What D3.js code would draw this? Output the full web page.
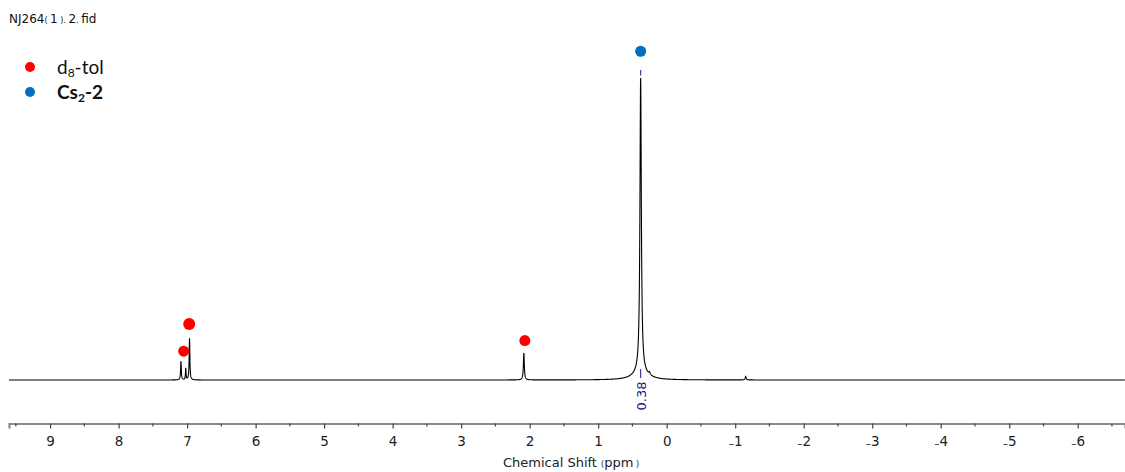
<!DOCTYPE html>
<html>
<head>
<meta charset="utf-8">
<script src="https://cdn.jsdelivr.net/npm/d3@7"></script>
<style>
  html, body { margin: 0; padding: 0; background: #fff; }
  svg { display: block; }
</style>
</head>
<body>
<svg id="chart" width="1125" height="472"></svg>
<script>
// Spectrum peaks: chemical shift (ppm), relative height, half-width (ppm)
const peakShifts  = [7.09, 7.02, 6.965, 2.085, 0.38, 0.38, 0.25, -1.153];
const peakHeights = [0.062, 0.038, 0.138, 0.089, 0.972, 0.026, 0.008, 0.012];
const peakWidths  = [0.006, 0.005, 0.006, 0.008, 0.012, 0.12, 0.01, 0.008];

// Peak markers: shift, intensity position, group
const markerShifts  = [6.97, 7.05, 2.07, 0.38];
const markerLevels  = [0.185, 0.095, 0.13, 1.085];
const markerGroups  = ["tol", "tol", "tol", "cs2"];

const legendKeys   = ["tol", "cs2"];
const groupColors  = ["#ff0000", "#0070c0"];

const majorTicks = [9, 8, 7, 6, 5, 4, 3, 2, 1, 0, -1, -2, -3, -4, -5, -6];
const minorTicks = [9.5, 8.5, 7.5, 6.5, 5.5, 4.5, 3.5, 2.5, 1.5, 0.5, -0.5, -1.5, -2.5, -3.5, -4.5, -5.5, -6.5];

const integralShift = 0.38;
const integralLabel = "0.38";

const svg = d3.select("#chart");

const x = d3.scaleLinear().domain([9.6, -6.69]).range([9, 1125]);
const y = d3.scaleLinear().domain([0, 1]).range([380, 77]);
const color = d3.scaleOrdinal().domain(legendKeys).range(groupColors);

// Sample the spectrum from the Lorentzian peak list
const step = 0.0015;
const spectrum = d3.range(9.6, -6.69, -step).map(s => {
  let v = 0;
  for (let i = 0; i < peakShifts.length; i++) {
    const d = s - peakShifts[i], w = peakWidths[i];
    v += peakHeights[i] * w * w / (d * d + w * w);
  }
  return [s, v];
});

svg.append("path")
  .datum(spectrum)
  .attr("fill", "none")
  .attr("stroke", "#000")
  .attr("stroke-width", 1.1)
  .attr("d", d3.line().x(d => x(d[0])).y(d => y(d[1])));

// Axis
const axisY = 423.5;
const gAxis = svg.append("g").attr("transform", `translate(0,${axisY})`);
gAxis.call(d3.axisBottom(x).tickValues(majorTicks).tickSize(5).tickPadding(6)
  .tickFormat(d => d))
  .call(g => g.select(".domain").attr("stroke", "#8a8a8a").attr("stroke-width", 2.2))
  .call(g => g.selectAll(".tick line").attr("stroke", "#444").attr("stroke-width", 1.2))
  .call(g => g.selectAll(".tick text")
    .attr("font-family", "DejaVu Sans, sans-serif")
    .attr("font-size", 13.5)
    .attr("fill", "#222")
    .attr("dy", null)
    .attr("y", 22)
    .each(function(d) {
      const t = d3.select(this);
      t.text(null);
      if (d < 0) {
        t.append("tspan").attr("font-size", 10.5).attr("dy", 1.5).text("\u2013");
        t.append("tspan").attr("dy", -1.5).text(Math.abs(d));
      } else {
        t.text(d);
      }
    }));

svg.append("g").attr("transform", `translate(0,${axisY})`)
  .selectAll("line").data(minorTicks).join("line")
  .attr("x1", d => x(d)).attr("x2", d => x(d))
  .attr("y1", 0).attr("y2", 3)
  .attr("stroke", "#444").attr("stroke-width", 1.2);

// Axis title
const axTitle = svg.append("text")
  .attr("x", 571).attr("y", 467)
  .attr("text-anchor", "middle")
  .attr("font-family", "DejaVu Sans, sans-serif")
  .attr("font-size", 13)
  .attr("fill", "#222");
axTitle.append("tspan").text("Chemical Shift ");
axTitle.append("tspan").attr("font-size", 8).text("(");
axTitle.append("tspan").text("ppm");
axTitle.append("tspan").attr("font-size", 8).text(" )");

// File name
const fileTitle = svg.append("text")
  .attr("x", 9).attr("y", 23)
  .attr("font-family", "DejaVu Sans, sans-serif")
  .attr("font-size", 12)
  .attr("fill", "#111");
fileTitle.append("tspan").text("NJ264");
fileTitle.append("tspan").attr("font-size", 8).text("( ");
fileTitle.append("tspan").text("1");
fileTitle.append("tspan").attr("font-size", 8).text(" ). ");
fileTitle.append("tspan").text("2");
fileTitle.append("tspan").attr("font-size", 8).text(". ");
fileTitle.append("tspan").text("fid");

// Integration label under the main peak
const ix = x(integralShift);
svg.append("line")
  .attr("x1", ix).attr("x2", ix).attr("y1", 70).attr("y2", 75.5)
  .attr("stroke", "#3a3aa8").attr("stroke-width", 1.2);
svg.append("line")
  .attr("x1", ix).attr("x2", ix).attr("y1", 369).attr("y2", 378)
  .attr("stroke", "#3a3aa8").attr("stroke-width", 1.2);
svg.append("text")
  .attr("transform", `translate(${ix + 5},${396}) rotate(-90)`)
  .attr("text-anchor", "middle")
  .attr("font-family", "DejaVu Sans, sans-serif")
  .attr("font-size", 13)
  .attr("fill", "#1a1a8c")
  .text(integralLabel);

// Peak markers
svg.append("g").selectAll("circle")
  .data(markerShifts.map((s, i) => ({ s, v: markerLevels[i], g: markerGroups[i] })))
  .join("circle")
  .attr("cx", d => x(d.s))
  .attr("cy", d => y(d.v))
  .attr("r", (d, i) => i === 0 ? 6 : 5.5)
  .attr("fill", d => color(d.g));

// Legend
const legend = svg.append("g").attr("font-family", "Lato, 'Open Sans', sans-serif");
const lg1 = legend.append("g").attr("transform", "translate(30,67)");
lg1.append("circle").attr("r", 5).attr("fill", color("tol"));
const t1 = lg1.append("text").attr("x", 27).attr("y", 7).attr("font-size", 19).attr("fill", "#111");
t1.append("tspan").text("d");
t1.append("tspan").attr("font-size", 12).attr("dy", 3).text("8");
t1.append("tspan").attr("dy", -3).text("-tol");

const lg2 = legend.append("g").attr("transform", "translate(30,92)");
lg2.append("circle").attr("r", 5).attr("fill", color("cs2"));
const t2 = lg2.append("text").attr("x", 27).attr("y", 7).attr("font-size", 19).attr("font-weight", "bold").attr("fill", "#111");
t2.append("tspan").text("Cs");
t2.append("tspan").attr("font-size", 12).attr("dy", 3).text("2");
t2.append("tspan").attr("dy", -3).text("-2");
</script>
</body>
</html>
